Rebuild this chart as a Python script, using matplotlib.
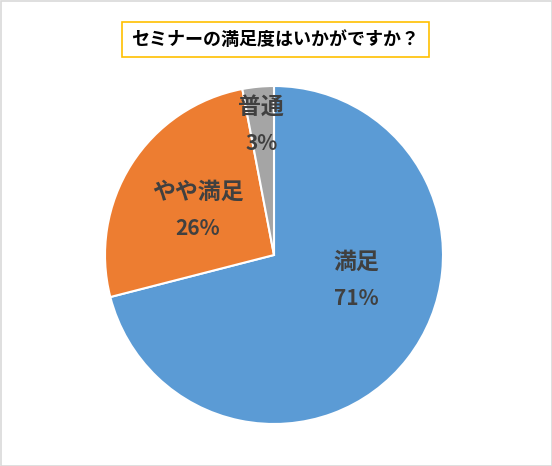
import matplotlib.pyplot as plt
from matplotlib.patches import Rectangle
import numpy as np

plt.rcParams['font.family'] = ['Noto Sans CJK JP', 'DejaVu Sans']

# data
labels = ["満足", "やや満足", "普通"]
values = [71, 26, 3]
colors = ["#5B9BD5", "#ED7D31", "#A5A5A5"]
title = "セミナーの満足度はいかがですか？"

W, H = 552, 466
fig = plt.figure(figsize=(W / 100, H / 100), dpi=100)
ax = fig.add_axes([0, 0, 1, 1])

cx, cy, r = 274, H - 255, 169
ax.pie(values, colors=colors, startangle=90, counterclock=False,
       center=(cx, cy), radius=r, frame=True,
       wedgeprops=dict(edgecolor="white", linewidth=1.5))
ax.set_xlim(0, W)
ax.set_ylim(0, H)
ax.axis("off")

# label offsets from the centre, in units of radius (Excel best fit placement)
offsets = [(0.485, -0.148), (-0.45, 0.266), (-0.075, 0.766)]
for lab, v, (ox, oy) in zip(labels, values, offsets):
    x = cx + ox * r
    y = cy + oy * r
    ax.text(x, y + 18, lab, ha="center", va="center", fontsize=16.5,
            fontweight="bold", color="#404040")
    ax.text(x, y - 18, f"{v}%", ha="center", va="center", fontsize=15,
            fontweight="bold", color="#404040")

# title box
ax.add_patch(Rectangle((122, H - 57), 307, 35, facecolor="white",
                       edgecolor="#FFC000", linewidth=1.2))
ax.text(275.5, H - 39.5, title, ha="center", va="center", fontsize=13,
        fontweight="bold", color="black")

# chart border
ax.add_patch(Rectangle((0.5, 0.5), W - 1, H - 1, facecolor="none",
                       edgecolor="#D9D9D9", linewidth=1.2))

fig.savefig("out.png", dpi=100)
